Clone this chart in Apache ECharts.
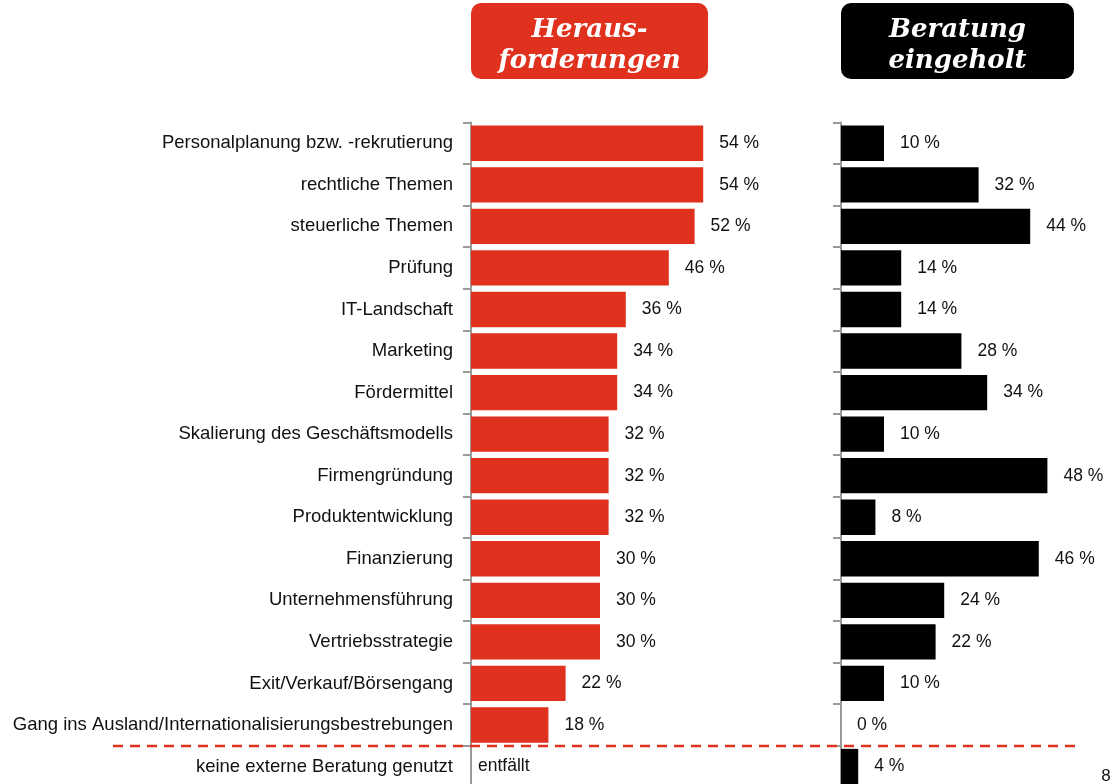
<!DOCTYPE html>
<html><head><meta charset="utf-8">
<script src="https://cdn.jsdelivr.net/npm/echarts@6/dist/echarts.min.js"></script>
<style>html,body{margin:0;padding:0;background:#fff;overflow:hidden}#c{width:1117px;height:810px}</style>
</head><body><div id="c"></div>
<script>
const categories = [
  "Personalplanung bzw. -rekrutierung","rechtliche Themen","steuerliche Themen","Prüfung",
  "IT-Landschaft","Marketing","Fördermittel","Skalierung des Geschäftsmodells","Firmengründung",
  "Produktentwicklung","Finanzierung","Unternehmensführung","Vertriebsstrategie",
  "Exit/Verkauf/Börsengang","Gang ins Ausland/Internationalisierungsbestrebungen",
  "keine externe Beratung genutzt"
];
const herausforderungen = [54,54,52,46,36,34,34,32,32,32,30,30,30,22,18,null];
const beratungEingeholt = [10,32,44,14,14,28,34,10,48,8,46,24,22,10,0,4];
const notApplicableText = "entfällt";
const headerLeft = "Heraus-\nforderungen";
const headerRight = "Beratung\neingeholt";
const pageNumber = "8";

const RED = "#e0301e";
const FONT = '"Liberation Sans", Arial, sans-serif';
const chart = echarts.init(document.getElementById('c'), null, {renderer:'canvas'});
const leftData = herausforderungen.map(v => v === null
  ? {value: 0, label: {formatter: notApplicableText, distance: 7}}
  : v);
const labelStyle = {show:true, position:'right', distance:16, fontSize:17.5,
  fontFamily:FONT, color:'#111', padding:[4,0,0,0], formatter: p => p.value + ' %'};
const yBase = {
  type:'category', data: categories, inverse:true,
  axisLine:{show:true, lineStyle:{color:'#9a9a9a', width:2}},
  axisTick:{show:true, length:8, lineStyle:{color:'#9a9a9a', width:2}},
  splitLine:{show:false}
};
const option = {
  animation:false,
  grid:[
    {left:471, top:122.5, width:258, height:664.8},
    {left:841, top:122.5, width:258, height:664.8}
  ],
  xAxis:[
    {gridIndex:0, type:'value', min:0, max:60, show:false},
    {gridIndex:1, type:'value', min:0, max:60, show:false}
  ],
  yAxis:[
    Object.assign({}, yBase, {gridIndex:0, axisLabel:{show:true, margin:18, fontSize:18.5,
      fontFamily:FONT, color:'#111', padding:[4,0,0,0]}}),
    Object.assign({}, yBase, {gridIndex:1, axisLabel:{show:false}})
  ],
  series:[
    {type:'bar', xAxisIndex:0, yAxisIndex:0, data:leftData, barCategoryGap:'15%',
      itemStyle:{color:RED}, label:Object.assign({}, labelStyle,
        {formatter: p => (herausforderungen[p.dataIndex] === null ? notApplicableText : p.value + ' %')})},
    {type:'bar', xAxisIndex:1, yAxisIndex:1, data:beratungEingeholt, barCategoryGap:'15%',
      itemStyle:{color:'#000'}, label:labelStyle}
  ]
};
chart.setOption(option);

const y0 = chart.convertToPixel({yAxisIndex:0}, categories[14]);
const y1 = chart.convertToPixel({yAxisIndex:0}, categories[15]);
const sepY = Math.round((y0 + y1) / 2);
const headerFont = 'italic bold 26px "DejaVu Serif", Georgia, serif';
chart.setOption({graphic:[
  {type:'rect', shape:{x:471, y:3, width:237, height:76, r:10}, style:{fill:RED}},
  {type:'text', x:589.5, y:46, style:{text:headerLeft, font:headerFont, fill:'#fff',
    align:'center', verticalAlign:'middle', lineHeight:31}},
  {type:'rect', shape:{x:841, y:3, width:233, height:76, r:10}, style:{fill:'#000'}},
  {type:'text', x:957.5, y:46, style:{text:headerRight, font:headerFont, fill:'#fff',
    align:'center', verticalAlign:'middle', lineHeight:31}},
  {type:'line', shape:{x1:113, y1:sepY, x2:1075, y2:sepY}, z:100,
    style:{stroke:RED, lineWidth:2.5, lineDash:[10,7]}},
  {type:'text', x:1106, y:776, style:{text:pageNumber, font:'17px ' + FONT,
    fill:'#111', align:'center', verticalAlign:'middle'}}
]});
</script></body></html>
